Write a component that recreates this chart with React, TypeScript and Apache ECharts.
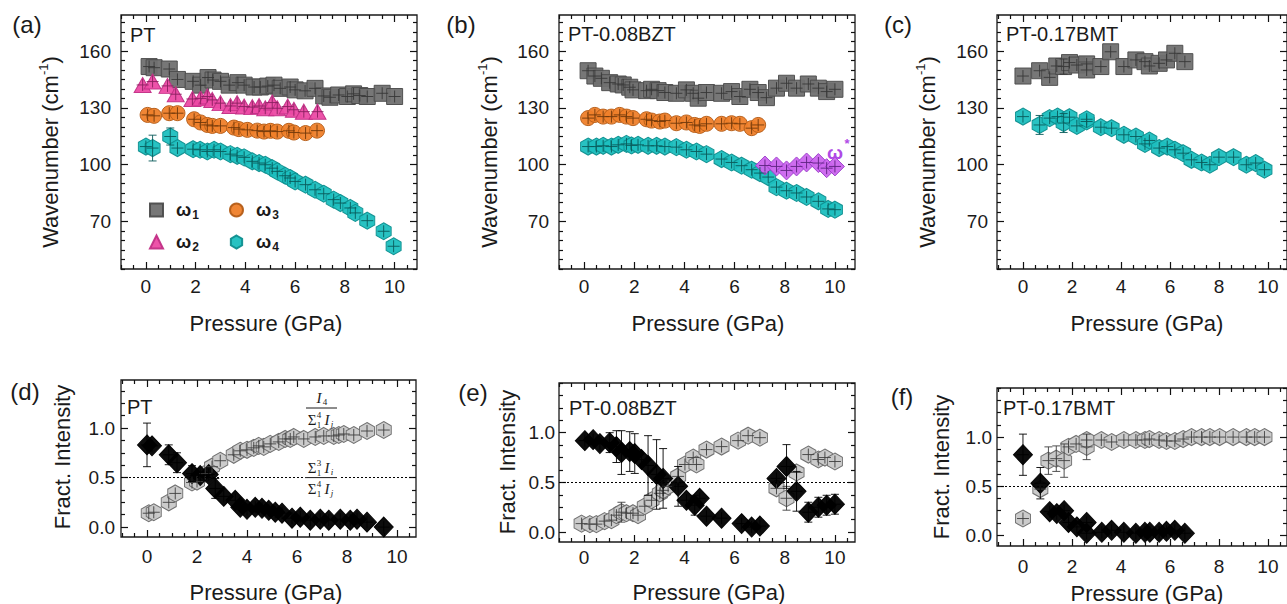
import React, { useEffect, useRef } from "react";
import * as echarts from "echarts";

const SANS = 'Arial, "Liberation Sans", Helvetica, sans-serif';
const SERIF = '"Liberation Serif", "Times New Roman", serif';
const INK = "#1a1a1a";

// ---- axis ticks ----
const X_TICKS = [0, 2, 4, 6, 8, 10];
const WAVE_TICKS = [70, 100, 130, 160];
const FRAC_TICKS = [0, 0.5, 1];
const X_MINOR_STEP = 0.5;
const WAVE_MINOR_STEP = 5;
const FRAC_MINOR_STEP = 0.125;

// ---- (a) PT wavenumbers [P, w, err] ----
const PT_W1 = [[0.13,151.8],[0.33,151.2],[0.94,150.5],[1.27,145],[1.9,144],[2.2,142],[2.5,146],[2.7,144.7],[3.0,144],[3.35,142],[3.7,143.3],[3.95,142],[4.35,141],[4.6,141],[4.9,141.5],[5.15,142],[5.4,140.3],[5.8,141],[6.0,139.5],[6.4,139],[6.8,140.3],[7.15,136.3],[7.4,135.6],[7.75,136.8],[8.1,136],[8.35,137.4],[8.6,136.5],[8.9,136],[9.5,137.7],[10.0,136]];
const PT_W2 = [[-0.13,142.1],[0.27,143.9],[0.87,141.6],[1.2,137.2],[1.87,134.7],[2.2,135],[2.47,136],[2.67,134.2],[3.0,132.5],[3.4,131],[3.67,132.5],[3.95,130.7],[4.28,130.4],[4.55,131],[4.8,129.8],[5.08,132.8],[5.28,129.8],[5.7,130.7],[5.95,129],[6.35,128],[6.9,128]];
const PT_W3 = [[0.07,126.3],[0.33,125.8],[0.94,127.2],[1.27,127.2],[1.94,124],[2.2,122.3],[2.47,121],[2.67,120.5],[3.0,120.5],[3.54,119.6],[3.74,118.8],[4.08,118.4],[4.48,118],[4.75,117.5],[5.01,117.9],[5.28,117.5],[5.75,117.9],[5.95,117],[6.42,116.7],[6.88,118]];
const PT_W4 = [[0.0,109.6],[0.27,108.8,6.8],[0.98,114.9,4.5],[1.27,108.8],[1.9,108.2],[2.18,107.9],[2.47,107],[2.74,107.9],[3.0,107],[3.4,105.6],[3.67,104.7],[3.95,103.9],[4.28,101.8],[4.55,100.9],[4.8,100],[5.08,98.2],[5.28,96.5],[5.6,94.2],[5.8,93],[6.0,91.2],[6.42,89.5],[6.8,86.8],[7.15,84.7],[7.55,81.6],[7.82,79.8],[8.22,77.2],[8.42,74.6],[8.9,70.5],[9.56,64.9],[9.96,57]];

// ---- (b) PT-0.08BZT ----
const BZT_W1 = [[0.16,149.6],[0.43,146.8],[0.69,145.6],[1.02,143.3],[1.36,142.6],[1.56,142.1],[1.82,140.9],[1.95,139.5],[2.49,139.1],[2.69,139.8],[2.95,139.1],[3.22,138.1],[3.68,137.7],[4.08,139.5],[4.35,137.7],[4.55,135.1],[4.88,138.1],[5.48,137.7],[5.88,138.6],[6.21,136],[6.61,139.8],[6.94,138.1],[7.27,135.4],[7.67,140.4],[8.07,143],[8.47,140.4],[8.94,142.6],[9.34,140.4],[9.67,138.6],[10.0,139.8]];
const BZT_W3 = [[0.16,124.6],[0.43,126.3],[0.76,125.4],[1.09,125.4],[1.42,126.3],[1.69,125.4],[1.95,124.6],[2.49,124],[2.69,123.3],[3.02,122.8],[3.22,123.3],[3.68,121.9],[4.08,122.3],[4.41,121],[4.61,120.5],[4.88,121.6],[5.48,121.6],[5.88,121.9],[6.21,121.6],[6.68,119.3],[6.94,121]];
const BZT_W4 = [[0.16,109.6],[0.49,109.6],[0.76,110],[1.09,109.6],[1.36,110.5],[1.69,111],[1.89,110.2],[2.15,110.5],[2.55,110],[2.89,110],[3.22,109.6],[3.68,109.3],[4.08,107.9],[4.48,107],[4.88,105.6],[5.48,103],[5.88,101.2],[6.28,99.5],[6.68,97.4],[7.01,95.6],[7.34,93.5],[7.67,88.2],[8.07,86.3],[8.47,85.1],[8.87,83],[9.34,80.7],[9.73,76.7],[10.0,76.3]];
const BZT_WS = [[7.21,99.6],[7.67,99.1],[8.07,97],[8.47,99.1],[8.87,101.2],[9.34,100.9],[9.67,98.2],[10.0,99.1]];

// ---- (c) PT-0.17BMT ----
const BMT_W1 = [[0,146.8],[0.68,149.6],[1.09,146.1],[1.38,152.1],[1.66,151.8,4],[1.9,153.9],[2.2,152.6],[2.6,153.2],[2.6,150],[3.18,151.8],[3.58,159.6],[4.12,151.8],[4.61,155.3],[4.98,154.4],[5.16,152.1],[5.56,153.5],[5.86,155.3],[6.2,158.8,3],[6.61,154.4]];
const BMT_W4 = [[0,125.4],[0.68,121,5],[1.09,124.6],[1.41,125.4],[1.66,122,5],[1.9,125.1],[2.2,120.5],[2.6,122.8],[2.6,124],[3.18,119.8],[3.62,119.3],[4.12,115.8],[4.61,114.9],[4.98,111],[5.16,112.8],[5.56,108.8],[5.89,109.6],[6.2,107.9],[6.54,106.1],[6.88,102.6],[7.29,101.2],[7.63,100],[8.0,104],[8.6,104],[9.12,100],[9.5,100.9],[9.86,97.4,3]];

// ---- (d) PT fractional intensities ----
const PT_I4 = [[0.07,0.14,0.05],[0.27,0.15],[0.87,0.25],[1.13,0.34],[1.8,0.45,0.06],[2.0,0.46],[2.33,0.54],[2.6,0.61],[2.93,0.67],[3.47,0.73],[3.73,0.77],[4.0,0.78],[4.27,0.8],[4.47,0.82],[4.67,0.81],[4.93,0.84],[5.27,0.86],[5.53,0.89],[5.73,0.89],[5.87,0.91],[6.27,0.89],[6.73,0.91],[7.07,0.92],[7.47,0.92],[7.67,0.93],[7.87,0.94],[8.27,0.93],[8.8,0.97],[9.47,0.98]];
const PT_IR = [[0.0,0.83,0.22],[0.2,0.82],[0.87,0.73,0.1],[1.2,0.65,0.1],[1.8,0.54,0.08],[2.13,0.52],[2.47,0.53],[2.73,0.39,0.1],[3.07,0.31,0.06],[3.53,0.27,0.07],[3.73,0.2],[4.0,0.18],[4.33,0.2],[4.6,0.19],[4.87,0.17],[5.13,0.15],[5.4,0.14],[5.8,0.09],[6.13,0.1],[6.53,0.07],[6.93,0.08],[7.27,0.07],[7.73,0.08],[8.13,0.07],[8.4,0.08],[8.8,0.05],[9.47,0.0]];

// ---- (e) PT-0.08BZT fractional intensities ----
const BZT_I4 = [[-0.1,0.085],[0.23,0.08],[0.49,0.08,0.04],[0.82,0.11],[1.09,0.12],[1.29,0.17],[1.49,0.2,0.1],[1.69,0.19],[1.95,0.19],[2.15,0.17],[2.42,0.26],[2.69,0.32],[3.02,0.39],[3.15,0.42],[3.35,0.46],[3.75,0.56],[4.02,0.68],[4.35,0.75],[4.48,0.68],[4.88,0.83],[5.48,0.86],[6.14,0.92],[6.54,0.97],[7.01,0.95],[7.67,0.44],[8.07,0.34,0.12],[8.47,0.6],[8.94,0.78],[9.34,0.73],[9.6,0.75],[10.0,0.71]];
const BZT_IR = [[0.03,0.92],[0.36,0.93],[0.63,0.89],[1.02,0.9,0.1],[1.29,0.86,0.16],[1.49,0.8,0.22],[1.82,0.81,0.2],[2.02,0.79,0.2],[2.29,0.73],[2.55,0.67,0.3],[2.89,0.58,0.35],[3.15,0.54,0.3],[3.75,0.46,0.2],[4.08,0.32],[4.41,0.27,0.1],[4.61,0.34],[4.88,0.16],[5.48,0.14],[6.28,0.085],[6.68,0.05],[7.01,0.06],[7.67,0.54],[8.07,0.66,0.22],[8.47,0.41,0.2],[8.94,0.2,0.1],[9.34,0.25,0.1],[9.67,0.27,0.1],[10.0,0.28,0.1]];

// ---- (f) PT-0.17BMT fractional intensities ----
const BMT_I4 = [[0,0.17,0.04],[0.71,0.47],[1.04,0.76,0.14],[1.36,0.78,0.13],[1.68,0.76,0.17],[1.86,0.9],[2.17,0.93],[2.6,0.9,0.13],[2.6,0.97],[3.2,0.97],[3.62,0.95],[4.12,0.97],[4.61,0.97],[4.98,0.97],[5.16,0.98],[5.56,0.97],[5.86,0.96],[6.2,0.96],[6.54,0.98],[6.88,1.0],[7.29,1.0],[7.63,1.0],[8.03,1.0],[8.58,1.0],[9.12,1.0],[9.46,1.0],[9.86,1.0]];
const BMT_IR = [[0,0.82,0.21],[0.71,0.53,0.16],[1.09,0.24],[1.38,0.22],[1.68,0.25],[1.86,0.13],[2.2,0.085],[2.6,0.13],[2.6,0.02],[3.22,0.03],[3.62,0.05],[4.12,0.03],[4.61,0.02],[4.98,0.03],[5.18,0.03],[5.56,0.03],[5.86,0.04],[6.2,0.05],[6.61,0.02]];

const PANEL_LETTERS = ["(a)", "(b)", "(c)", "(d)", "(e)", "(f)"];
const SAMPLE_NAMES = ["PT", "PT-0.08BZT", "PT-0.17BMT", "PT", "PT-0.08BZT", "PT-0.17BMT"];

const HEX = "path://M0,-10L8.66,-5L8.66,5L0,10L-8.66,5L-8.66,-5Z";
const STY: any = {
  sq: { symbol: "rect", size: 16, fill: "#707070", border: "#4c4c4c", cross: "#383838" },
  tri: { symbol: "triangle", size: [17, 15], fill: "#ec4aa4", border: "#c22f86", cross: "#8a2060" },
  cir: { symbol: "circle", size: 15, fill: "#ef7f2a", border: "#b45d18", cross: "#6f380a" },
  hex: { symbol: HEX, size: [15, 17], fill: "#1cbfbf", border: "#0e8e8e", cross: "#0a5a5a" },
  dia: { symbol: "diamond", size: [19, 19], fill: "#cb65ee", border: "#9b3fc9", cross: "#5e2380" },
  ghex: { symbol: HEX, size: [15, 17], fill: "#c8c8c8", border: "#6a6a6a", cross: "#404040" },
  bdia: { symbol: "diamond", size: [19, 20], fill: "#000000", border: "#000000", cross: "#000000" },
};

const GRIDS = [
  { left: 121, top: 15, width: 296, height: 254 },
  { left: 559, top: 15, width: 296, height: 254 },
  { left: 997, top: 15, width: 290, height: 254 },
  { left: 121, top: 380, width: 295, height: 157 },
  { left: 559, top: 383, width: 296, height: 159 },
  { left: 997, top: 388, width: 290, height: 158 },
];
const XR = [[-1, 10.9], [-1, 10.8], [-1.06, 10.78], [-1.04, 10.76], [-1, 10.8], [-1.06, 10.78]];
const YR = [[45, 179], [45, 179], [45, 179], [-0.1, 1.485], [-0.1, 1.5], [-0.11, 1.5]];
const XLAB_MARGIN = [8, 8, 8, 10, 6, 11];
const YLAB_MARGIN = [10, 10, 9, 6, 4, 5];

function minors(min: number, max: number, step: number, majors: number[]) {
  const out: number[] = [];
  const start = Math.ceil(min / step - 1e-9);
  for (let k = start; k * step <= max + 1e-9; k++) {
    const v = Math.round(k * step * 1000) / 1000;
    if (!majors.some((m) => Math.abs(m - v) < 1e-6)) out.push(v);
  }
  return out;
}

const tickLine = { color: "#111", width: 1.2 };

function axesFor(g: number) {
  const [x0, x1] = XR[g];
  const [y0, y1] = YR[g];
  const top = g < 3;
  const yMaj = top ? WAVE_TICKS : FRAC_TICKS;
  const yMin = minors(y0, y1, top ? WAVE_MINOR_STEP : FRAC_MINOR_STEP, yMaj);
  const xMin = minors(x0, x1, X_MINOR_STEP, X_TICKS);
  const line = { show: false, onZero: false };
  const bx = { type: "value", gridIndex: g, min: x0, max: x1, splitLine: { show: false }, axisLine: line };
  const by = { type: "value", gridIndex: g, min: y0, max: y1, splitLine: { show: false }, axisLine: line };
  const lab = { fontSize: 19, color: INK, fontFamily: SANS };
  const maj = (vals: number[]) => ({ show: true, inside: true, length: 7, customValues: vals, lineStyle: tickLine });
  const mnr = (vals: number[]) => ({ show: true, inside: true, length: 4, customValues: vals, lineStyle: tickLine });
  const x = [
    { ...bx, position: "bottom", axisTick: maj(X_TICKS), axisLabel: { ...lab, show: true, customValues: X_TICKS, margin: XLAB_MARGIN[g] } },
    { ...bx, position: "bottom", axisTick: mnr(xMin), axisLabel: { show: false } },
    { ...bx, position: "top", axisTick: maj(X_TICKS), axisLabel: { show: false } },
    { ...bx, position: "top", axisTick: mnr(xMin), axisLabel: { show: false } },
  ];
  const y = [
    {
      ...by, position: "left", axisTick: maj(yMaj),
      axisLabel: { ...lab, show: true, customValues: yMaj, margin: YLAB_MARGIN[g], formatter: top ? (v: number) => String(v) : (v: number) => v.toFixed(1) },
    },
    { ...by, position: "left", axisTick: mnr(yMin), axisLabel: { show: false } },
    { ...by, position: "right", axisTick: maj(yMaj), axisLabel: { show: false } },
    { ...by, position: "right", axisTick: mnr(yMin), axisLabel: { show: false } },
  ];
  return { x, y };
}

function marks(name: string, data: number[][], g: number, st: any, extra: any = {}) {
  const hw = 6;
  const scatter = {
    type: "scatter", name, xAxisIndex: g * 4, yAxisIndex: g * 4,
    data: data.map((p) => [p[0], p[1]]),
    symbol: st.symbol, symbolSize: st.size,
    itemStyle: { color: st.fill, borderColor: st.border, borderWidth: 1, opacity: 0.95 },
    z: 2, silent: true, ...extra,
  };
  const cross = {
    type: "custom", name: name + " err", xAxisIndex: g * 4, yAxisIndex: g * 4, z: 3, silent: true,
    data: data.map((p) => [p[0], p[1], p[2] ?? 0]),
    encode: { x: 0, y: 1 },
    renderItem: (params: any, api: any) => {
      const xv = api.value(0), yv = api.value(1), e = api.value(2) || 0;
      const c = api.coord([xv, yv]);
      const t = api.coord([xv, yv + e])[1];
      const b = api.coord([xv, yv - e])[1];
      const ya = Math.min(t, c[1] - hw), yb = Math.max(b, c[1] + hw);
      const s = { stroke: st.cross, lineWidth: 0.9 };
      const ch: any[] = [
        { type: "line", shape: { x1: c[0] - hw, y1: c[1], x2: c[0] + hw, y2: c[1] }, style: s },
        { type: "line", shape: { x1: c[0], y1: ya, x2: c[0], y2: yb }, style: s },
      ];
      if (c[1] - t > hw + 1) {
        ch.push({ type: "line", shape: { x1: c[0] - 4, y1: t, x2: c[0] + 4, y2: t }, style: s });
        ch.push({ type: "line", shape: { x1: c[0] - 4, y1: b, x2: c[0] + 4, y2: b }, style: s });
      }
      return { type: "group", children: ch };
    },
  };
  return [scatter, cross];
}

const halfLine = () => ({
  silent: true, symbol: ["none", "none"], label: { show: false },
  lineStyle: { color: "#000", width: 1, type: [2, 2] },
  data: [{ yAxis: 0.5 }],
});

function txt(x: number, y: number, text: string, size: number, extra: any = {}) {
  return {
    type: "text", x, y, z: 50, silent: true,
    style: { text, fontSize: size, fontFamily: SANS, fill: INK, align: "center", verticalAlign: "middle", textAlign: "center", textVerticalAlign: "middle", ...extra },
  };
}

function sumTerm(cx: number, cy: number, sup: string, sub: string, idx: string) {
  const f = { fontFamily: SERIF, fill: INK };
  return [
    txt(cx - 9, cy, "Σ", 15, f),
    txt(cx - 2, cy - 5, sup, 9, f),
    txt(cx - 2, cy + 5, sub, 9, f),
    txt(cx + 6, cy, "I", 15, { ...f, fontStyle: "italic" }),
    txt(cx + 11, cy + 4, idx, 9, { ...f, fontStyle: "italic" }),
  ];
}

function buildOption() {
  const xAxis: any[] = [];
  const yAxis: any[] = [];
  for (let g = 0; g < 6; g++) {
    const a = axesFor(g);
    xAxis.push(...a.x);
    yAxis.push(...a.y);
  }
  const series: any[] = [
    ...marks("ω1", PT_W1, 0, STY.sq),
    ...marks("ω2", PT_W2, 0, STY.tri),
    ...marks("ω3", PT_W3, 0, STY.cir),
    ...marks("ω4", PT_W4, 0, STY.hex),
    ...marks("BZT ω1", BZT_W1, 1, STY.sq),
    ...marks("BZT ω3", BZT_W3, 1, STY.cir),
    ...marks("BZT ω4", BZT_W4, 1, STY.hex),
    ...marks("BZT ω*", BZT_WS, 1, STY.dia),
    ...marks("BMT ω1", BMT_W1, 2, STY.sq),
    ...marks("BMT ω4", BMT_W4, 2, STY.hex),
    ...marks("PT I4", PT_I4, 3, STY.ghex, { markLine: halfLine() }),
    ...marks("PT I123", PT_IR, 3, STY.bdia),
    ...marks("BZT I4", BZT_I4, 4, STY.ghex, { markLine: halfLine() }),
    ...marks("BZT I123", BZT_IR, 4, STY.bdia),
    ...marks("BMT I4", BMT_I4, 5, STY.ghex, { markLine: halfLine() }),
    ...marks("BMT I123", BMT_IR, 5, STY.bdia),
  ];

  const legRich = {
    w: { fontSize: 18, fontWeight: "bold", fontFamily: SANS, color: INK, lineHeight: 22, padding: [0, 0, 0, 8] },
    s: { fontSize: 12, fontWeight: "bold", fontFamily: SANS, color: INK, lineHeight: 12, verticalAlign: "bottom", padding: [0, 0, 0, 1] },
  };
  const legBase = {
    orient: "vertical", itemWidth: 13, itemHeight: 13, itemGap: 12, selectedMode: false,
    formatter: (n: string) => `{w|ω}{s|${n.slice(1)}}`,
    textStyle: { rich: legRich },
  };
  const legend = [
    { ...legBase, data: ["ω1", "ω2"], left: 144, top: 196 },
    { ...legBase, data: ["ω3", "ω4"], left: 224, top: 196 },
  ];

  const letterPos = [[27, 24], [461, 24], [898, 24], [25, 391], [473, 392], [902, 396]];
  const namePos = [[130, 35], [568, 34], [1006, 34], [127, 407], [569, 408], [1003, 408]];
  const xTitlePos = [[266, 323], [708, 323], [1147, 323], [266, 592], [709, 592], [1147, 593]];
  const yTitlePos = [[50, 152], [489, 152], [927, 152], [62, 457], [507, 462], [941, 467]];

  const graphic: any[] = [];
  for (let g = 0; g < 6; g++) {
    graphic.push(txt(letterPos[g][0], letterPos[g][1], PANEL_LETTERS[g], 24));
    graphic.push(txt(namePos[g][0], namePos[g][1], SAMPLE_NAMES[g], 20, { align: "left", textAlign: "left" }));
    graphic.push(txt(xTitlePos[g][0], xTitlePos[g][1], "Pressure (GPa)", 22));
    const yt = g < 3
      ? {
          text: "{a|Wavenumber (cm}{b|-1}{a|)}",
          rich: {
            a: { fontSize: 22, fontFamily: SANS, fill: INK, color: INK, lineHeight: 26 },
            b: { fontSize: 13, fontFamily: SANS, fill: INK, color: INK, lineHeight: 13, verticalAlign: "top" },
          },
        }
      : { text: "Fract. Intensity" };
    graphic.push({ ...txt(yTitlePos[g][0], yTitlePos[g][1], "", 22, yt), rotation: Math.PI / 2 });
  }
  // omega* label in (b)
  graphic.push(txt(835, 152, "ω", 19, { fontFamily: SANS, fontWeight: "bold", fill: "#b04ae6" }));
  graphic.push(txt(847, 143, "*", 13, { fontFamily: SANS, fontWeight: "bold", fill: "#b04ae6" }));
  // fraction formulas in (d)
  const cx = 321;
  graphic.push(txt(cx - 2, 398, "I", 15, { fontFamily: SERIF, fontStyle: "italic" }));
  graphic.push(txt(cx + 4, 402, "4", 9, { fontFamily: SERIF }));
  graphic.push({ type: "line", z: 50, silent: true, shape: { x1: 306, y1: 408, x2: 337, y2: 408 }, style: { stroke: INK, lineWidth: 1 } });
  graphic.push(...sumTerm(cx, 420, "4", "1", "j"));
  graphic.push({ type: "rect", z: 49, silent: true, shape: { x: 303, y: 460, width: 36, height: 38 }, style: { fill: "#ffffff" } });
  graphic.push(...sumTerm(cx, 468, "3", "1", "i"));
  graphic.push({ type: "line", z: 50, silent: true, shape: { x1: 305, y1: 477.6, x2: 337, y2: 477.6 }, style: { stroke: INK, lineWidth: 1 } });
  graphic.push(...sumTerm(cx, 489, "4", "1", "j"));

  return {
    animation: false,
    backgroundColor: "#ffffff",
    grid: GRIDS.map((g) => ({ ...g, show: true, borderColor: "#1a1a1a", borderWidth: 1.3, backgroundColor: "transparent" })),
    xAxis, yAxis, series, legend, graphic,
  };
}

export default function App() {
  const ref = useRef<HTMLDivElement>(null);
  useEffect(() => {
    if (!ref.current) return;
    const chart = echarts.init(ref.current, undefined, { renderer: "svg" });
    chart.setOption(buildOption() as any);
    return () => chart.dispose();
  }, []);
  return <div ref={ref} style={{ position: "fixed", left: 0, top: 0, width: 1287, height: 604, background: "#fff" }} />;
}
